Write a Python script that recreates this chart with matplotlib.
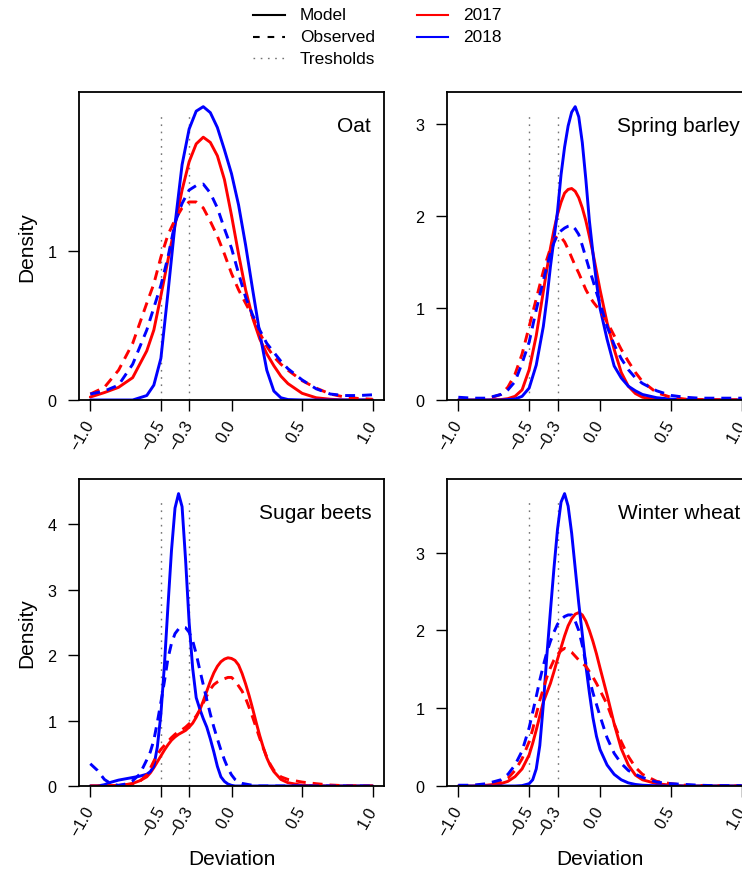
import matplotlib
matplotlib.use("Agg")
import matplotlib.pyplot as plt
from matplotlib.lines import Line2D

plt.rcParams['font.family'] = ['Liberation Sans', 'DejaVu Sans']

# ---- data ----
crops = ['Oat', 'Spring barley', 'Sugar beets', 'Winter wheat']
x_ticks = [-1.0, -0.5, -0.3, 0.0, 0.5, 1.0]
x_tick_labels = ['\u22121.0', '\u22120.5', '\u22120.3', '0.0', '0.5', '1.0']
thresholds = [-0.5, -0.3]
y_ticks = [[0, 1], [0, 1, 2, 3], [0, 1, 2, 3, 4], [0, 1, 2, 3]]

oat_x = [-1.0, -0.9, -0.8, -0.7, -0.6, -0.55, -0.5, -0.45, -0.4, -0.35, -0.3, -0.25, -0.2, -0.15,
         -0.1, -0.05, 0.0, 0.05, 0.1, 0.15, 0.2, 0.25, 0.3, 0.35, 0.4, 0.5, 0.6, 0.7, 0.8, 0.9, 1.0]
oat_model_2017 = [0.02, 0.05, 0.085, 0.15, 0.33, 0.47, 0.7, 0.94, 1.175, 1.41, 1.6, 1.72, 1.765, 1.73,
                  1.64, 1.48, 1.24, 0.98, 0.74, 0.55, 0.41, 0.31, 0.23, 0.16, 0.11, 0.045, 0.015, 0.005, 0, 0, 0]
oat_model_2018 = [0, 0, 0, 0, 0.03, 0.1, 0.28, 0.72, 1.18, 1.58, 1.82, 1.94, 1.97, 1.93,
                  1.83, 1.68, 1.52, 1.31, 1.04, 0.74, 0.45, 0.2, 0.06, 0.015, 0.003, 0, 0, 0, 0, 0, 0]
oat_observed_2017 = [0.04, 0.085, 0.2, 0.38, 0.65, 0.78, 0.96, 1.11, 1.21, 1.29, 1.33, 1.33, 1.29, 1.2,
                     1.1, 0.98, 0.85, 0.74, 0.65, 0.56, 0.45, 0.36, 0.29, 0.24, 0.2, 0.13, 0.08, 0.04, 0.02, 0.01, 0.005]
oat_observed_2018 = [0.04, 0.06, 0.1, 0.24, 0.47, 0.62, 0.77, 0.96, 1.19, 1.32, 1.41, 1.44, 1.45, 1.39,
                     1.29, 1.15, 1.02, 0.85, 0.69, 0.57, 0.47, 0.38, 0.32, 0.26, 0.21, 0.135, 0.075, 0.04, 0.03, 0.03, 0.035]

barley_x = [-1.0, -0.9, -0.8, -0.7, -0.65, -0.6, -0.55, -0.5, -0.45, -0.4,
            -0.375, -0.35, -0.325, -0.3, -0.275, -0.25, -0.225, -0.2, -0.175, -0.15,
            -0.125, -0.1, -0.075, -0.05, -0.025, 0.0,
            0.05, 0.1, 0.15, 0.2, 0.25, 0.3, 0.4, 0.5, 0.6, 0.7, 0.8, 0.9, 1.0]
barley_model_2017 = [0, 0, 0, 0.005, 0.015, 0.04, 0.11, 0.33, 0.7, 1.18,
                     1.42, 1.65, 1.85, 2.02, 2.15, 2.25, 2.29, 2.3, 2.27, 2.2,
                     2.09, 1.95, 1.78, 1.6, 1.4, 1.2,
                     0.84, 0.55, 0.3, 0.15, 0.07, 0.03, 0.005, 0, 0, 0, 0, 0, 0]
barley_model_2018 = [0, 0, 0, 0, 0.005, 0.01, 0.04, 0.13, 0.38, 0.8,
                     1.1, 1.45, 1.75, 2.05, 2.45, 2.75, 2.98, 3.13, 3.19, 3.08,
                     2.8, 2.4, 1.95, 1.6, 1.28, 1.0,
                     0.66, 0.37, 0.24, 0.15, 0.1, 0.06, 0.025, 0.01, 0.005, 0, 0, 0, 0]
barley_observed_2017 = [0, 0, 0.01, 0.06, 0.14, 0.28, 0.5, 0.8, 1.1, 1.4,
                        1.53, 1.65, 1.74, 1.79, 1.77, 1.72, 1.64, 1.55, 1.46, 1.38,
                        1.29, 1.2, 1.13, 1.07, 1.02, 0.97,
                        0.85, 0.7, 0.55, 0.42, 0.3, 0.2, 0.08, 0.03, 0.01, 0.005, 0.003, 0.002, 0]
barley_observed_2018 = [0.03, 0.02, 0.02, 0.06, 0.11, 0.2, 0.4, 0.63, 0.98, 1.3,
                        1.45, 1.6, 1.71, 1.8, 1.84, 1.87, 1.89, 1.9, 1.86, 1.8,
                        1.68, 1.55, 1.42, 1.3, 1.17, 1.05,
                        0.8, 0.6, 0.45, 0.33, 0.24, 0.18, 0.1, 0.05, 0.03, 0.02, 0.02, 0.02, 0.02]

beets_x = [-1.0, -0.95, -0.9, -0.85, -0.8, -0.75, -0.7, -0.65, -0.6,
           -0.575, -0.55, -0.525, -0.5, -0.475, -0.45, -0.425, -0.4, -0.375, -0.35,
           -0.325, -0.3, -0.275, -0.25, -0.225, -0.2, -0.175, -0.15, -0.125, -0.1,
           -0.075, -0.05, -0.025, 0.0, 0.025, 0.05, 0.075, 0.1, 0.125, 0.15,
           0.175, 0.2, 0.225, 0.25, 0.275, 0.3,
           0.35, 0.4, 0.5, 0.6, 0.7, 0.8, 0.9, 1.0]
beets_model_2017 = [0, 0, 0.005, 0.007, 0.01, 0.02, 0.04, 0.08, 0.14,
                    0.2, 0.28, 0.37, 0.46, 0.55, 0.63, 0.7, 0.75, 0.79, 0.82,
                    0.85, 0.9, 0.96, 1.05, 1.16, 1.3, 1.45, 1.6, 1.73, 1.83,
                    1.9, 1.94, 1.96, 1.95, 1.92, 1.85, 1.72, 1.56, 1.38, 1.18,
                    0.97, 0.77, 0.59, 0.43, 0.31, 0.22,
                    0.1, 0.05, 0.01, 0.003, 0, 0, 0, 0]
beets_model_2018 = [0, 0, 0.02, 0.06, 0.09, 0.11, 0.13, 0.15, 0.18,
                    0.22, 0.3, 0.6, 1.1, 1.85, 2.75, 3.6, 4.25, 4.47, 4.27,
                    3.45, 2.5, 1.8, 1.35, 1.18, 1.03, 0.9, 0.72, 0.52, 0.3,
                    0.14, 0.07, 0.03, 0.01, 0, 0, 0, 0, 0, 0,
                    0, 0, 0, 0, 0, 0,
                    0, 0, 0, 0, 0, 0, 0, 0]
beets_observed_2017 = [0, 0, 0, 0.003, 0.005, 0.015, 0.03, 0.07, 0.17,
                       0.27, 0.38, 0.48, 0.56, 0.62, 0.68, 0.74, 0.79, 0.83, 0.86,
                       0.9, 0.95, 1.0, 1.07, 1.16, 1.27, 1.38, 1.48, 1.55, 1.59,
                       1.62, 1.64, 1.66, 1.66, 1.61, 1.53, 1.45, 1.34, 1.2, 1.05,
                       0.89, 0.73, 0.58, 0.44, 0.33, 0.24,
                       0.14, 0.1, 0.06, 0.035, 0.015, 0.005, 0, 0]
beets_observed_2018 = [0.34, 0.24, 0.1, 0.03, 0.01, 0.03, 0.08, 0.18, 0.4,
                       0.52, 0.7, 0.98, 1.28, 1.6, 1.95, 2.18, 2.33, 2.4, 2.43,
                       2.42, 2.35, 2.22, 2.02, 1.78, 1.55, 1.32, 1.1, 0.9, 0.72,
                       0.55, 0.4, 0.27, 0.17, 0.1, 0.06, 0.04, 0.03, 0.02, 0.01,
                       0, 0, 0, 0, 0, 0,
                       0, 0, 0, 0, 0, 0, 0, 0]

wheat_x = [-1.0, -0.9, -0.8, -0.7, -0.65, -0.6, -0.55, -0.5,
           -0.475, -0.45, -0.425, -0.4, -0.375, -0.35, -0.325, -0.3, -0.275, -0.25,
           -0.225, -0.2, -0.175, -0.15, -0.125, -0.1, -0.075, -0.05, -0.025, 0.0,
           0.05, 0.1, 0.15, 0.2, 0.25, 0.3, 0.4, 0.5, 0.6, 0.7, 0.8, 0.9, 1.0]
wheat_model_2017 = [0, 0, 0.01, 0.03, 0.06, 0.12, 0.22, 0.4,
                    0.55, 0.72, 0.9, 1.08, 1.2, 1.32, 1.47, 1.63, 1.78, 1.93,
                    2.06, 2.15, 2.21, 2.23, 2.2, 2.12, 2.0, 1.86, 1.7, 1.52,
                    1.17, 0.8, 0.48, 0.27, 0.14, 0.08, 0.03, 0.01, 0, 0, 0, 0, 0]
wheat_model_2018 = [0, 0, 0, 0, 0, 0, 0.005, 0.03,
                    0.08, 0.22, 0.52, 1.05, 1.68, 2.25, 2.8, 3.3, 3.65, 3.76,
                    3.6, 3.25, 2.8, 2.35, 1.95, 1.55, 1.2, 0.88, 0.64, 0.47,
                    0.27, 0.15, 0.08, 0.04, 0.02, 0.01, 0.003, 0, 0, 0, 0, 0, 0]
wheat_observed_2017 = [0, 0.005, 0.02, 0.05, 0.1, 0.2, 0.35, 0.57,
                       0.73, 0.92, 1.1, 1.25, 1.4, 1.52, 1.62, 1.69, 1.74, 1.77,
                       1.75, 1.72, 1.67, 1.62, 1.58, 1.54, 1.47, 1.4, 1.32, 1.23,
                       1.05, 0.8, 0.57, 0.38, 0.24, 0.15, 0.06, 0.03, 0.01, 0.005, 0.003, 0, 0]
wheat_observed_2018 = [0.01, 0.01, 0.03, 0.08, 0.15, 0.27, 0.45, 0.75,
                       0.95, 1.15, 1.36, 1.55, 1.72, 1.86, 1.98, 2.08, 2.14, 2.18,
                       2.2, 2.2, 2.12, 2.0, 1.81, 1.58, 1.38, 1.2, 1.05, 0.9,
                       0.62, 0.42, 0.29, 0.2, 0.15, 0.11, 0.05, 0.03, 0.02, 0.01, 0.005, 0.005, 0.005]

panels = [
    (oat_x, oat_model_2017, oat_model_2018, oat_observed_2017, oat_observed_2018),
    (barley_x, barley_model_2017, barley_model_2018, barley_observed_2017, barley_observed_2018),
    (beets_x, beets_model_2017, beets_model_2018, beets_observed_2017, beets_observed_2018),
    (wheat_x, wheat_model_2017, wheat_model_2018, wheat_observed_2017, wheat_observed_2018),
]

# ---- layout (pixels of a 742x870 canvas) ----
W, H = 742, 870
fig = plt.figure(figsize=(W / 100, H / 100), dpi=100)

boxes = [(79, 93, 384, 401), (447, 93, 753, 401), (79, 480, 384, 787), (447, 480, 753, 787)]

RED, BLUE = '#ff0000', '#0000ff'
DASH = (0, (3.4, 2.4))
DOT = (0, (1.2, 4.0))
TICK_FS, LAB_FS = 11.7, 15

for i, (crop, data) in enumerate(zip(crops, panels)):
    l, t, r, b = boxes[i]
    ax = fig.add_axes([l / W, 1 - b / H, (r - l) / W, (b - t) / H])
    xs, m17, m18, o17, o18 = data

    ymax = 1.05 * max(max(m17), max(m18), max(o17), max(o18))
    ax.set_xlim(-1.08, 1.08)
    ax.set_ylim(0, ymax)

    for th in thresholds:
        ax.axvline(th, ymin=0, ymax=0.935, color='0.45', lw=1.0, linestyle=DOT)

    ax.plot(xs, m17, color=RED, lw=2.1, solid_capstyle='round')
    ax.plot(xs, m18, color=BLUE, lw=2.1, solid_capstyle='round')
    ax.plot(xs, o17, color=RED, lw=2.1, linestyle=DASH)
    ax.plot(xs, o18, color=BLUE, lw=2.1, linestyle=DASH)

    ax.text(0.958, 0.89, crop, transform=ax.transAxes, ha='right', va='center', fontsize=LAB_FS)

    for sp in ax.spines.values():
        sp.set_linewidth(1.3)
        sp.set_color('black')

    ax.set_yticks(y_ticks[i])
    ax.set_yticklabels([str(v) for v in y_ticks[i]])
    ax.set_xticks(x_ticks)
    ax.set_xticklabels(x_tick_labels)
    ax.tick_params(axis='both', direction='out', length=7.6, width=1.0, labelsize=TICK_FS)
    ax.tick_params(axis='y', pad=8.6)
    ax.tick_params(axis='x', pad=7.6)
    for lab in ax.get_xticklabels():
        lab.set_rotation(60)
        lab.set_ha('right')
        lab.set_va('center')
        lab.set_rotation_mode('anchor')

    if i % 2 == 0:
        cy = (t + b) / 2
        fig.text(27 / W, 1 - cy / H, 'Density', rotation=90, ha='center', va='center', fontsize=LAB_FS)
    if i >= 2:
        cx = (l + r) / 2
        fig.text(cx / W, 1 - 860 / H, 'Deviation', ha='center', va='center', fontsize=LAB_FS)

# ---- legend on top ----
leg_fs = 12.4
rows = [16, 37.5, 59]
col1 = [('Model', 'black', '-'), ('Observed', 'black', (0, (3.2, 3.8))), ('Tresholds', '0.45', DOT)]
for (label, col, ls), y in zip(col1, rows):
    lw = 1.0 if label == 'Tresholds' else 1.5
    fig.add_artist(Line2D([253 / W, 285 / W], [1 - y / H, 1 - y / H], color=col, lw=lw, linestyle=ls))
    fig.text(300 / W, 1 - y / H, label, ha='left', va='center', fontsize=leg_fs)
col2 = [('2017', RED), ('2018', BLUE)]
for (label, col), y in zip(col2, rows):
    fig.add_artist(Line2D([417 / W, 448 / W], [1 - y / H, 1 - y / H], color=col, lw=1.5))
    fig.text(463 / W, 1 - y / H, label, ha='left', va='center', fontsize=leg_fs)

fig.savefig('out.png', dpi=100)
